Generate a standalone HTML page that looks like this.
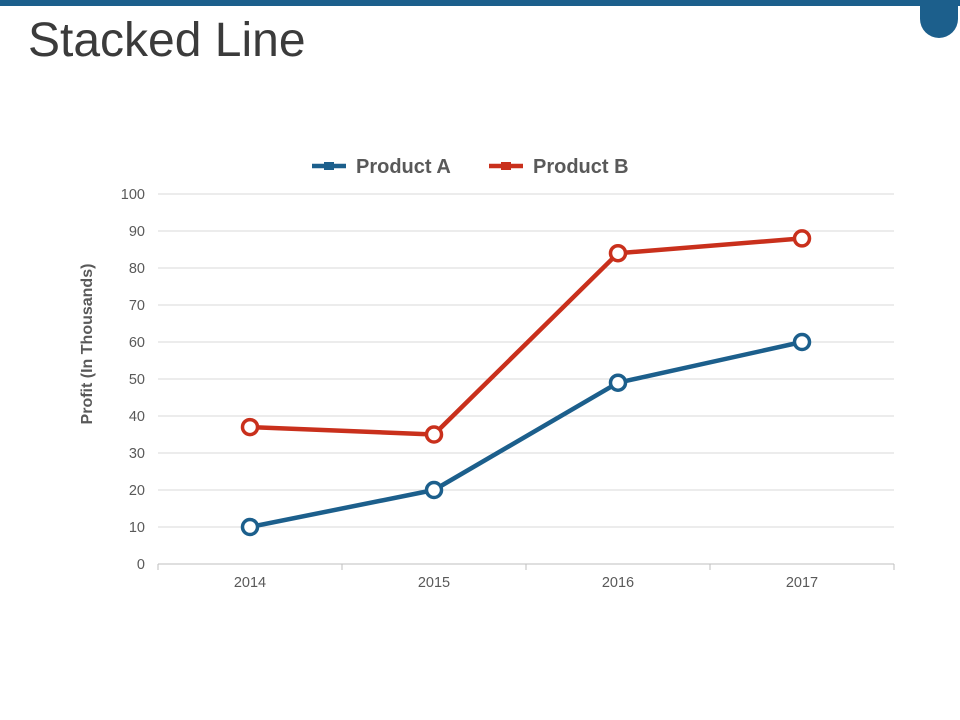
<!DOCTYPE html>
<html><head><meta charset="utf-8"><style>
body{margin:0;width:960px;height:720px;background:#fff;overflow:hidden;font-family:"Liberation Sans",sans-serif;position:relative}
.bar{position:absolute;left:0;top:0;width:960px;height:6px;background:#1c5f8c}
.tab{position:absolute;left:920px;top:0;width:38px;height:38px;background:#1c5f8c;border-radius:0 0 19px 19px}
h1{position:absolute;left:28px;top:13px;margin:0;font-weight:normal;font-size:48px;color:#3b3b3b}
</style></head><body>
<div class="bar"></div>
<div class="tab"></div>
<h1>Stacked Line</h1>
<svg id="c" width="960" height="720" style="position:absolute;left:0;top:0"></svg>
<script>
const categories=["2014","2015","2016","2017"];
const seriesA=[10,20,49,60];
const seriesB=[37,35,84,88];
const yTicks=[0,10,20,30,40,50,60,70,80,90,100];
const NS="http://www.w3.org/2000/svg";
const svg=document.getElementById('c');
const L=158,R=894,Y0=564,Y100=194;
const y=v=>Y0-(v/100)*(Y0-Y100);
const bw=(R-L)/categories.length;
const x=i=>L+bw*(i+0.5);
function mk(t,a,p){const e=document.createElementNS(NS,t);for(const k in a)e.setAttribute(k,a[k]);(p||svg).appendChild(e);return e;}
yTicks.forEach(v=>{
 const g=mk('line',{x1:L,x2:R,y1:y(v),y2:y(v),stroke:v===0?'#bfbfbf':'#d9d9d9','stroke-width':1});
 
 
 const t=mk('text',{x:145,y:y(v)+5,'text-anchor':'end','font-size':14.5,fill:'#595959'});t.textContent=v;
 
 
});
for(let i=0;i<=categories.length;i++){
 const tk=mk('line',{x1:L+bw*i,x2:L+bw*i,y1:Y0,y2:Y0+6,stroke:'#bfbfbf'});
 
 
}
categories.forEach((c,i)=>{
 const t=mk('text',{x:x(i),y:587,'text-anchor':'middle','font-size':14.5,fill:'#595959'});t.textContent=c;
 
 
});
const yt=mk('text',{transform:'translate(92,344) rotate(-90)','text-anchor':'middle','font-size':16,'font-weight':'bold',fill:'#595959'});
yt.textContent='Profit (In Thousands)';


function series(vals,col,name){
 const pl=mk('polyline',{points:vals.map((v,i)=>x(i)+','+y(v)).join(' '),fill:'none',stroke:col,'stroke-width':4.5,'stroke-linejoin':'round'});
 
 
 vals.forEach((v,i)=>{
  const c=mk('circle',{cx:x(i),cy:y(v),r:7.5,fill:'#fff',stroke:col,'stroke-width':3.5});
  
  
 });
}
series(seriesA,'#1c5f8c','product-a');
series(seriesB,'#c9301c','product-b');
[['Product A','#1c5f8c',312,'legend-product-a'],['Product B','#c9301c',489,'legend-product-b']].forEach(l=>{
 const g=mk('g',{});
 
 
 mk('line',{x1:l[2],x2:l[2]+34,y1:166,y2:166,stroke:l[1],'stroke-width':4.5},g);
 mk('rect',{x:l[2]+12,y:162,width:10,height:8,fill:l[1]},g);
 const t=mk('text',{x:l[2]+44,y:173,'font-size':20,'font-weight':'bold',fill:'#595959'},g);t.textContent=l[0];
});
</script>
</body></html>
